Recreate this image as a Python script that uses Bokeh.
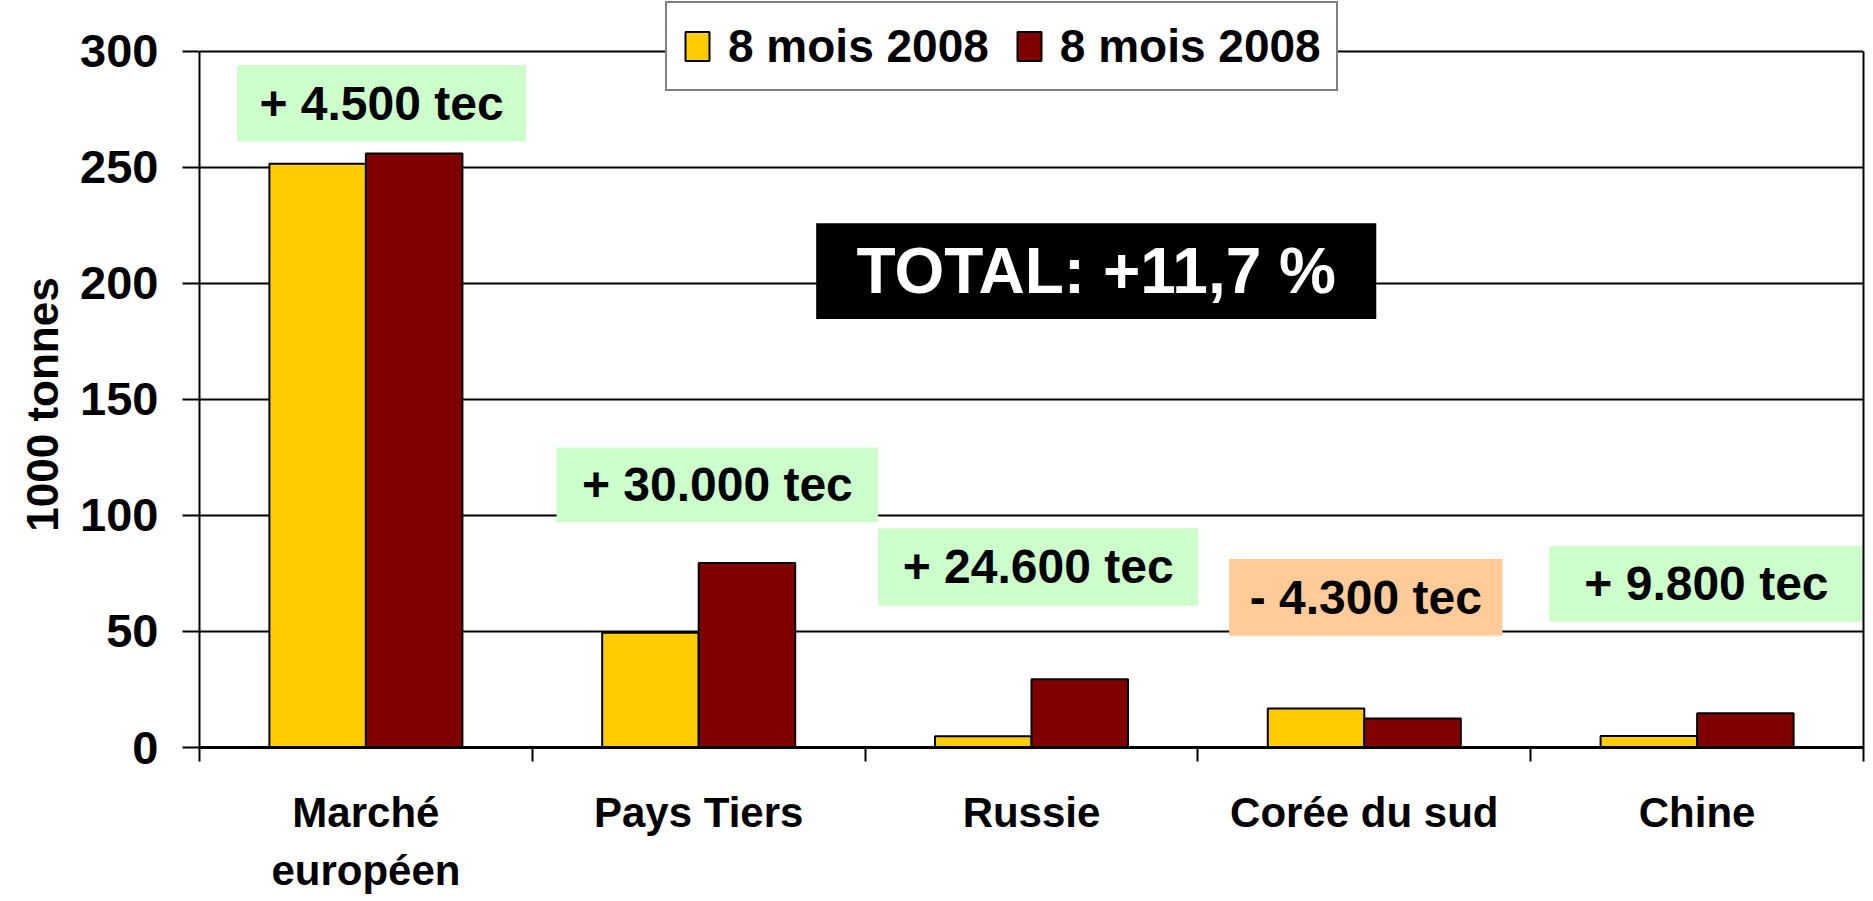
from bokeh.plotting import figure
from bokeh.models import (Range1d, FixedTicker, Legend, LegendItem, ColumnDataSource, LinearAxis)
from bokeh.transform import dodge
from bokeh.embed import file_html
from bokeh.resources import INLINE
from bokeh.core.properties import value
import numpy as np

# ---------------- data ----------------
categories = ["Marché\neuropéen", "Pays Tiers", "Russie", "Corée du sud", "Chine"]
series_a = [251.5, 49.5, 4.8, 16.8, 5.0]     # 8 mois 2008 (jaune)
series_b = [256.0, 79.5, 29.4, 12.5, 14.8]   # 8 mois 2008 (bordeaux)
series_names = ["8 mois 2008", "8 mois 2008"]
deltas = ["+ 4.500 tec", "+ 30.000 tec", "+ 24.600 tec", "- 4.300 tec", "+ 9.800 tec"]
delta_positive = [True, True, True, False, True]
total_text = "TOTAL: +11,7 %"
y_title = "1000 tonnes"
y_ticks = [0, 50, 100, 150, 200, 250, 300]
y_max = 300

# ---------------- layout / style ----------------
FONT = "Liberation Sans"
BAR_W = 0.29
YELLOW = "#FFCC00"
DARKRED = "#800000"
GREEN_BOX = "#CCFFCC"
ORANGE_BOX = "#FFCC99"
Y_HEADROOM = 21.9   # space above 300 so the legend (which overhangs the axis box) is not clipped
TITLE_PAD = "\u00a0" * 5   # shifts the rotated axis title to the centre of the 0..300 span

# annotation boxes (x in category slots, y in 1000 t)
box_left = [0.113, 1.073, 2.039, 3.094, 4.056]
box_right = [0.981, 2.039, 3.001, 3.915, 5.03]
box_top = [294.1, 129.3, 94.5, 81.2, 86.8]
box_bottom = [261.1, 97.1, 61.1, 48.2, 54.2]
total_box = dict(left=1.853, right=3.536, top=225.9, bottom=184.7)

n = len(categories)
centers = np.arange(n) + 0.5

p = figure(width=1865, height=897, x_range=Range1d(0, n), y_range=Range1d(0, y_max + Y_HEADROOM),
           output_backend="svg", toolbar_location=None, title=None,
           min_border_left=199, min_border_right=2, min_border_top=0, min_border_bottom=148)

p.background_fill_color = "white"
p.border_fill_color = "white"
p.outline_line_color = None

p.xgrid.grid_line_color = None
p.ygrid.grid_line_color = "black"
p.ygrid.grid_line_width = 2
p.ygrid.ticker = FixedTicker(ticks=y_ticks)

yax = p.yaxis[0]
yax.bounds = (0, y_max)
yax.ticker = FixedTicker(ticks=y_ticks)
yax.axis_line_width = 2
yax.major_tick_in = 0
yax.major_tick_out = 17
yax.major_tick_line_width = 2
yax.minor_tick_line_color = None
yax.major_label_standoff = 24
yax.major_label_text_font = FONT
yax.major_label_text_font_style = "bold"
yax.major_label_text_font_size = "47px"
yax.major_label_text_color = "black"
yax.axis_label = y_title + TITLE_PAD
yax.axis_label_text_font = FONT
yax.axis_label_text_font_style = "bold"
yax.axis_label_text_font_size = "44px"
yax.axis_label_text_color = "black"
yax.axis_label_standoff = 10

# right border of the plot box, limited to 0..300
rax = LinearAxis(bounds=(0, y_max), ticker=FixedTicker(ticks=[]), axis_line_width=2,
                 axis_line_color="black", major_tick_line_color=None, minor_tick_line_color=None,
                 major_label_standoff=0, major_tick_out=0, major_tick_in=0)
p.add_layout(rax, "right")

xax = p.xaxis[0]
xax.ticker = FixedTicker(ticks=list(centers), minor_ticks=list(range(n + 1)))
xax.major_label_overrides = {float(c): lab for c, lab in zip(centers, categories)}
xax.axis_line_width = 3
xax.major_tick_in = 0
xax.major_tick_out = 0
xax.minor_tick_in = 0
xax.minor_tick_out = 14
xax.minor_tick_line_width = 2
xax.minor_tick_line_color = "black"
xax.major_label_standoff = 27
xax.major_label_text_font = FONT
xax.major_label_text_font_style = "bold"
xax.major_label_text_font_size = "42px"
xax.major_label_text_line_height = 1.25
xax.major_label_text_color = "black"

src = ColumnDataSource(dict(x=centers, a=series_a, b=series_b))
r1 = p.vbar(x=dodge("x", -BAR_W / 2), top="a", width=BAR_W, source=src, fill_color=YELLOW,
            line_color="black", line_width=2)
r2 = p.vbar(x=dodge("x", BAR_W / 2), top="b", width=BAR_W, source=src, fill_color=DARKRED,
            line_color="black", line_width=2)

box_colors = [GREEN_BOX if pos else ORANGE_BOX for pos in delta_positive]
bsrc = ColumnDataSource(dict(left=box_left, right=box_right, top=box_top, bottom=box_bottom,
                             color=box_colors, text=deltas,
                             cx=[(l + r) / 2 for l, r in zip(box_left, [min(r, n) for r in box_right])],
                             cy=[(t + b) / 2 for t, b in zip(box_top, box_bottom)]))
p.quad(left="left", right="right", top="top", bottom="bottom", fill_color="color",
       line_color=None, source=bsrc)
p.text(x="cx", y="cy", text="text", source=bsrc, text_font=value(FONT),
       text_font_style="bold", text_font_size="48px", text_color="black",
       text_align="center", text_baseline="middle")

p.quad(left=[total_box["left"]], right=[total_box["right"]], top=[total_box["top"]],
       bottom=[total_box["bottom"]], fill_color="black", line_color=None)
p.text(x=[(total_box["left"] + total_box["right"]) / 2], y=[(total_box["top"] + total_box["bottom"]) / 2],
       text=[total_text], text_font=value(FONT), text_font_style="bold",
       text_font_size="64px", text_color="white", text_align="center", text_baseline="middle")

legend = Legend(items=[LegendItem(label=series_names[0], renderers=[r1]),
                       LegendItem(label=series_names[1], renderers=[r2])],
                orientation="horizontal", location=(466, 656))
legend.glyph_width = 30
legend.glyph_height = 36
legend.label_standoff = 16
legend.label_height = 56
legend.spacing = 25
legend.padding = 15
legend.margin = 0
legend.label_text_font = FONT
legend.label_text_font_style = "bold"
legend.label_text_font_size = "46px"
legend.label_text_color = "black"
legend.border_line_color = "black"
legend.border_line_width = 2
legend.background_fill_color = "white"
legend.background_fill_alpha = 1.0
p.add_layout(legend, "center")

open("out.html", "w").write(file_html(p, INLINE))
